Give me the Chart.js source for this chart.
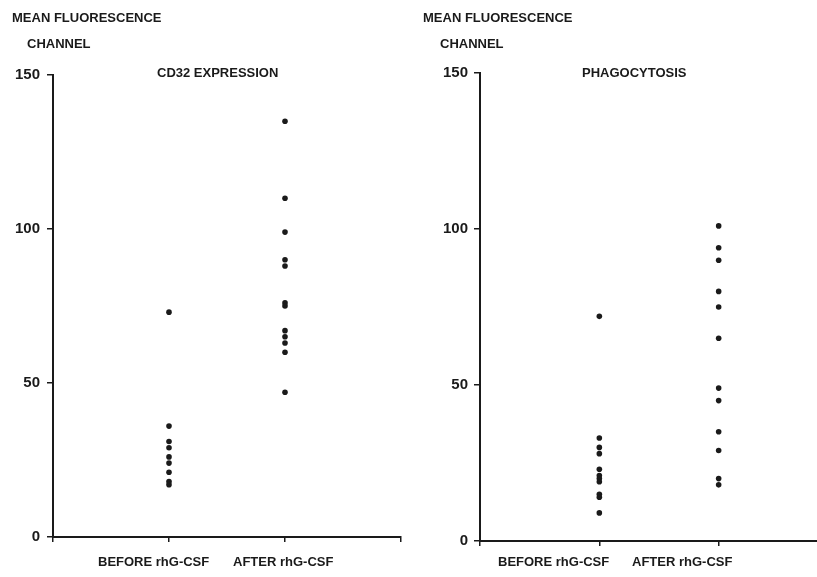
<!DOCTYPE html>
<html>
<head>
<meta charset="utf-8">
<script src="https://cdn.jsdelivr.net/npm/chart.js@4.4.1/dist/chart.umd.min.js"></script>
<style>
  html, body { margin: 0; padding: 0; background: #ffffff; }
  #wrap { position: relative; width: 817px; height: 577px; overflow: hidden; background: #fff; }
  canvas { position: absolute; top: 0; }
</style>
</head>
<body>
<div id="wrap">
  <canvas id="left" width="410" height="577" style="left:0px"></canvas>
  <canvas id="right" width="432" height="577" style="left:410px"></canvas>
</div>
<script>
// ---- Data ----
const categories = ["BEFORE rhG-CSF", "AFTER rhG-CSF"];
const yTicks = [0, 50, 100, 150];

const cd32Before = [73, 36, 31, 29, 26, 24, 21, 18, 17];
const cd32After  = [135, 110, 99, 90, 88, 76, 75, 67, 65, 63, 60, 47];

const phagoBefore = [72, 33, 30, 28, 23, 21, 20, 19, 15, 14, 9];
const phagoAfter  = [101, 94, 90, 80, 75, 65, 49, 45, 35, 29, 20, 18];

const yTitleLine1 = "MEAN FLUORESCENCE";
const yTitleLine2 = "CHANNEL";
const panelTitles = ["CD32 EXPRESSION", "PHAGOCYTOSIS"];

// ---- Helpers ----
const INK = '#1a1a1a';
const FONT = '"Liberation Sans", Arial, Helvetica, sans-serif';

function toPoints(vals, xPos) {
  return vals.map(v => ({ x: xPos, y: v }));
}

function textPlugin(texts) {
  return {
    id: 'panelTexts',
    afterDraw(chart) {
      const ctx = chart.ctx;
      ctx.save();
      ctx.fillStyle = INK;
      ctx.textBaseline = 'middle';
      texts.forEach(t => {
        ctx.font = 'bold ' + t.size + 'px ' + FONT;
        ctx.textAlign = t.align || 'left';
        ctx.fillText(t.text, t.x, t.y);
      });
      ctx.restore();
    }
  };
}

function makeChart(id, before, after, cfg) {
  const ctx = document.getElementById(id).getContext('2d');
  return new Chart(ctx, {
    type: 'scatter',
    data: {
      datasets: [
        { label: categories[0], data: toPoints(before, 1) },
        { label: categories[1], data: toPoints(after, 2) }
      ]
    },
    options: {
      responsive: false,
      animation: false,
      devicePixelRatio: 1,
      layout: { padding: { top: cfg.top, right: cfg.right, bottom: 0, left: 0 } },
      elements: {
        point: { radius: 2.8, backgroundColor: INK, borderWidth: 0, pointStyle: 'circle' }
      },
      plugins: {
        legend: { display: false },
        tooltip: { enabled: false },
        title: { display: false }
      },
      scales: {
        x: {
          type: 'linear',
          min: 0,
          max: cfg.xMax,
          afterFit(scale) { scale.height = cfg.xAxisH; },
          ticks: { display: false, stepSize: 1 },
          grid: { display: true, drawOnChartArea: false, drawTicks: true, tickLength: 5, color: INK, lineWidth: 1.5 },
          border: { display: true, color: INK, width: 2 }
        },
        y: {
          type: 'linear',
          min: 0,
          max: 150,
          afterFit(scale) { scale.width = cfg.yAxisW; },
          afterBuildTicks(scale) { scale.ticks = yTicks.map(v => ({ value: v })); },
          ticks: {
            color: INK,
            padding: cfg.labelPad,
            font: { family: FONT, size: 15, weight: 'bold' }
          },
          grid: { display: true, drawOnChartArea: false, drawTicks: true, tickLength: 6, color: INK, lineWidth: 1.5 },
          border: { display: true, color: INK, width: 2 }
        }
      }
    },
    plugins: [textPlugin(cfg.texts)]
  });
}

makeChart('left', cd32Before, cd32After, {
  top: 75, right: 9, xMax: 3, xAxisH: 40, yAxisW: 53, labelPad: 7,
  texts: [
    { text: yTitleLine1, x: 12, y: 18, size: 13 },
    { text: yTitleLine2, x: 27, y: 44, size: 13 },
    { text: panelTitles[0], x: 157, y: 73, size: 13 },
    { text: categories[0], x: 98, y: 562, size: 13 },
    { text: categories[1], x: 233, y: 562, size: 13 }
  ]
});

makeChart('right', phagoBefore, phagoAfter, {
  top: 73, right: 0, xMax: 3, xAxisH: 36, yAxisW: 70, labelPad: 6,
  texts: [
    { text: yTitleLine1, x: 13, y: 18, size: 13 },
    { text: yTitleLine2, x: 30, y: 44, size: 13 },
    { text: panelTitles[1], x: 172, y: 73, size: 13 },
    { text: categories[0], x: 88, y: 562, size: 13 },
    { text: categories[1], x: 222, y: 562, size: 13 }
  ]
});
</script>
</body>
</html>
